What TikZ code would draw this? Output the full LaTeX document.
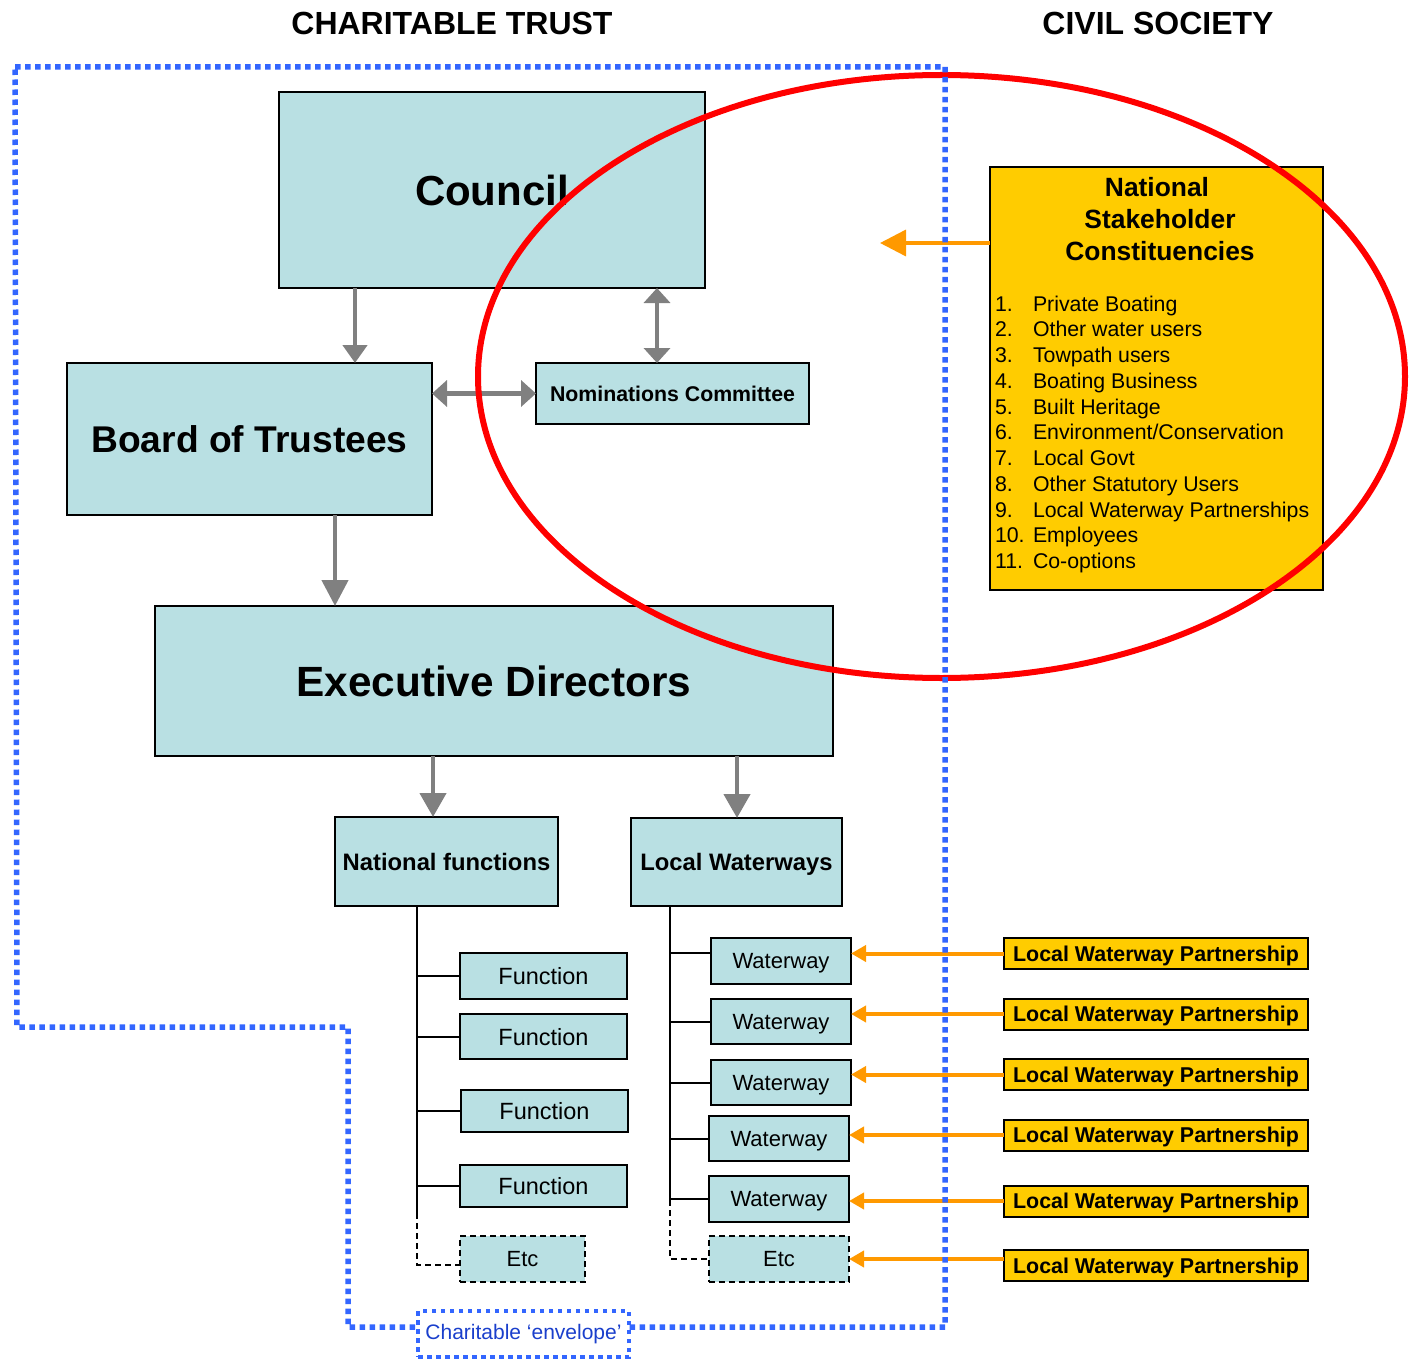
\documentclass[tikz,border=0pt]{standalone}
\usepackage{fontspec}
\setmainfont{Liberation Sans}
\usetikzlibrary{arrows.meta}
\definecolor{boxblue}{HTML}{B9E0E3}
\definecolor{gold}{HTML}{FFCC00}
\definecolor{orng}{HTML}{FF9900}
\definecolor{envblue}{HTML}{3366FF}
\definecolor{labblue}{HTML}{1A3FCC}
\definecolor{arrgray}{HTML}{808080}
\newcommand{\fsz}[1]{\fontsize{#1}{#1}\selectfont}
\begin{document}
\begin{tikzpicture}[x=1pt,y=-1pt,
  box/.style={draw=black,line width=2pt,fill=boxblue,inner sep=0pt,outer sep=0pt,text depth=0pt},
  dbox/.style={box,dash pattern=on 6pt off 4pt},
  gbox/.style={draw=black,line width=2pt,fill=gold,inner sep=0pt,outer sep=0pt,text depth=0pt},
  garrow/.style={draw=arrgray,line width=4.5pt},
  oarrow/.style={draw=orng,line width=4pt,-{Triangle[width=16pt,length=15pt]}},
  tree/.style={draw=black,line width=2pt},
  dtree/.style={tree,dash pattern=on 6pt off 4pt},
  envelope/.style={draw=envblue,line width=5.5pt,dash pattern=on 5.5pt off 4.5pt},
  txt/.style={inner sep=0pt,outer sep=0pt}]
\useasboundingbox (0,0) rectangle (1409,1359);

% headings
\node[txt,anchor=base,font=\bfseries\fsz{32}] (hct) at (452,35) {CHARITABLE TRUST};
\node[txt,anchor=base,font=\bfseries\fsz{32}] (hcs) at (1158,35) {CIVIL SOCIETY};

% main boxes
\node[box,minimum width=426pt,minimum height=196pt,font=\bfseries\fsz{42}] (council) at (492,190) {Council};
\node[box,minimum width=365pt,minimum height=152pt,font=\bfseries\fsz{37.2}] (board) at (249.5,439) {Board of Trustees};
\node[box,minimum width=273pt,minimum height=61pt,font=\bfseries\fsz{21.3}] (nom) at (672.5,393.5) {Nominations Committee};
\node[box,minimum width=678pt,minimum height=150pt,font=\bfseries\fsz{42.3}] (exec) at (494,681) {Executive Directors};
\node[box,minimum width=223pt,minimum height=89pt,font=\bfseries\fsz{23.8}] (nf) at (446.5,861.5) {National functions};
\node[box,minimum width=211pt,minimum height=88pt,font=\bfseries\fsz{23.8}] (lw) at (736.5,862) {Local Waterways};

% functions
\node[box,minimum width=167pt,minimum height=46pt,font=\fsz{23.5}] (f1) at (543.5,976) {Function};
\node[box,minimum width=167pt,minimum height=45pt,font=\fsz{23.5}] (f2) at (543.5,1036.5) {Function};
\node[box,minimum width=167pt,minimum height=42pt,font=\fsz{23.5}] (f3) at (544.5,1111) {Function};
\node[box,minimum width=167pt,minimum height=42pt,font=\fsz{23.5}] (f4) at (543.5,1186) {Function};
\node[dbox,minimum width=125pt,minimum height=46pt,font=\fsz{22}] (etc1) at (522.5,1259) {Etc};

% waterways
\node[box,minimum width=140pt,minimum height=46pt,font=\fsz{22}] (w1) at (781,961) {Waterway};
\node[box,minimum width=140pt,minimum height=45pt,font=\fsz{22}] (w2) at (781,1021.5) {Waterway};
\node[box,minimum width=140pt,minimum height=45pt,font=\fsz{22}] (w3) at (781,1082.5) {Waterway};
\node[box,minimum width=140pt,minimum height=45pt,font=\fsz{22}] (w4) at (779,1138.5) {Waterway};
\node[box,minimum width=140pt,minimum height=46pt,font=\fsz{22}] (w5) at (779,1199) {Waterway};
\node[dbox,minimum width=140pt,minimum height=46pt,font=\fsz{22}] (etc2) at (779,1259) {Etc};

% local waterway partnerships
\foreach \yy [count=\k] in {953.5,1014,1074.5,1135,1201,1265.5}{
  \node[gbox,minimum width=304pt,minimum height=31pt,font=\bfseries\fsz{21.4}] (lwp\k) at (1156,\yy) {Local Waterway Partnership};
}

% national stakeholder constituencies
\node[gbox,minimum width=333pt,minimum height=423pt] (nsc) at (1156.5,378.5) {};
\node[txt,anchor=base,font=\bfseries\fsz{26.4}] (nsc1) at (1157,197) {National};
\node[txt,anchor=base,font=\bfseries\fsz{26.4}] (nsc2) at (1160,229) {Stakeholder};
\node[txt,anchor=base,font=\bfseries\fsz{26.4}] (nsc3) at (1160,261) {Constituencies};
\foreach \t [count=\k] in {Private Boating,Other water users,Towpath users,Boating Business,Built Heritage,{Environment/Conservation},Local Govt,Other Statutory Users,Local Waterway Partnerships,Employees,Co-options}{
  \pgfmathsetmacro{\yy}{311+(\k-1)*25.75}
  \node[txt,anchor=base west,font=\fsz{21.3}] (num\k) at (995,\yy) {\k.};
  \node[txt,anchor=base west,font=\fsz{21.3}] (item\k) at (1033,\yy) {\t};
}

% helper coordinates
\coordinate (ca) at (355,0);
\coordinate (cb) at (657,0);
\coordinate (cc) at (335,0);
\coordinate (cd) at (433,0);
\coordinate (ce) at (737,0);
\coordinate (nft) at (417,906);
\coordinate (nfb) at (417,1213);
\coordinate (lwt) at (670,906);
\coordinate (lwb) at (670,1200);
\coordinate (nsctip) at (880,243);

% gray arrows
\draw[garrow,-{Triangle[width=24pt,length=18pt]}] (council.south -| ca) -- (board.north -| ca);
\draw[garrow,{Triangle[width=26pt,length=15pt]}-{Triangle[width=26pt,length=15pt]}] (council.south -| cb) -- (nom.north -| cb);
\draw[garrow,{Triangle[width=26pt,length=15pt]}-{Triangle[width=26pt,length=15pt]}] (board.east |- nom.west) -- (nom.west);
\draw[garrow,-{Triangle[width=26pt,length=26pt]}] (board.south -| cc) -- (exec.north -| cc);
\draw[garrow,-{Triangle[width=26pt,length=24pt]}] (exec.south -| cd) -- (nf.north -| cd);
\draw[garrow,-{Triangle[width=26pt,length=24pt]}] (exec.south -| ce) -- (lw.north -| ce);

% tree lines - national functions
\draw[tree] (nft) -- (nfb);
\draw[dtree] (nfb) |- ([yshift=-6pt]etc1.west);
\foreach \n in {f1,f2,f3,f4}{\draw[tree] (\n.west) -- (\n.west -| nft);}
% tree lines - local waterways
\draw[tree] (lwt) -- (lwb);
\draw[dtree] (lwb) |- (etc2.west);
\draw[tree] ([yshift=8pt]w1.west) -- ([yshift=8pt]w1.west -| lwt);
\foreach \n in {w2,w3,w4,w5}{\draw[tree] (\n.west) -- (\n.west -| lwt);}

% orange arrows
\foreach \k in {1,...,5}{\draw[oarrow] (lwp\k.west) -- (lwp\k.west -| w\k.east);}
\draw[oarrow] (lwp6.west |- etc2.east) -- (etc2.east);
\draw[draw=orng,line width=3.5pt,-{Triangle[width=26pt,length=26pt]}] (nsc.west |- nsctip) -- (nsctip);

% red ellipse
\draw[red,line width=6pt] (941.5,376.5) ellipse [x radius=463.5,y radius=301.5];

% charitable envelope
\draw[envelope] (15,67) -- (945,67) -- (945,1327) -- (348,1327) -- (348,1027) -- (17,1027) -- cycle;
\node[draw=envblue,line width=4.5pt,dash pattern=on 4.5pt off 4.5pt,fill=white,text=labblue,inner sep=0pt,minimum width=211pt,minimum height=46pt,font=\fsz{21}] (envlab) at (523.5,1334) {Charitable ‘envelope’};
\end{tikzpicture}
\end{document}
